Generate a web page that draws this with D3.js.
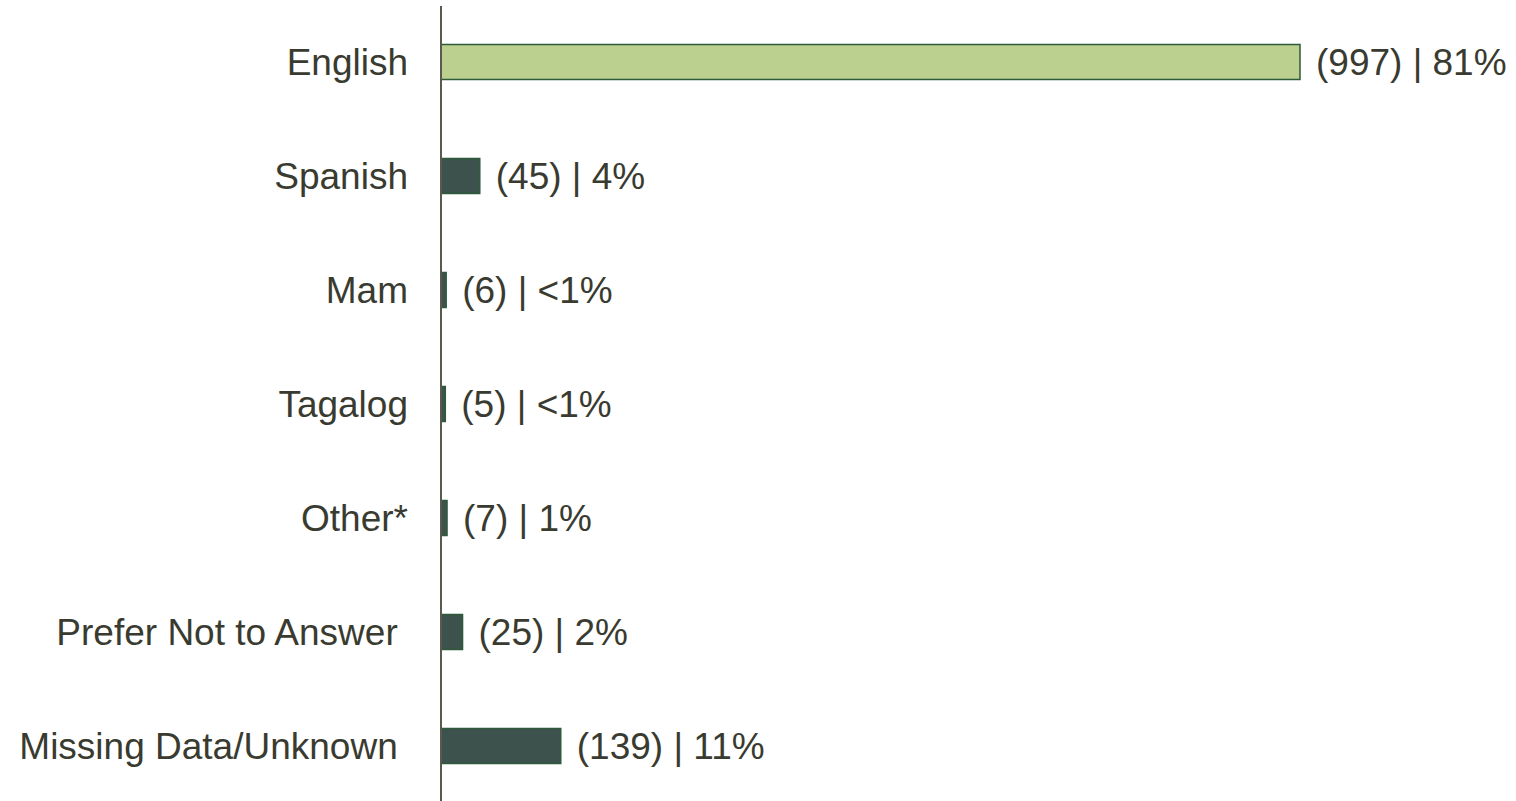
<!DOCTYPE html>
<html>
<head>
<meta charset="utf-8">
<script src="https://cdn.jsdelivr.net/npm/d3@7.9.0/dist/d3.min.js"></script>
<style>
  html, body { margin: 0; padding: 0; background: #fff; }
  text { font-family: "Liberation Sans", Arial, sans-serif; fill: #3a3b30; }
</style>
</head>
<body>
<div id="viz"></div>
<script>
// chart data
const categories = ["English", "Spanish", "Mam", "Tagalog", "Other*", "Prefer Not to Answer ", "Missing Data/Unknown "];
const counts = [997, 45, 6, 5, 7, 25, 139];
const percents = ["81%", "4%", "<1%", "<1%", "1%", "2%", "11%"];
const highlight = ["English"];

const width = 1516;
const height = 801;

const svg = d3.select("#viz")
  .append("svg")
  .attr("width", width)
  .attr("height", height);

const x = d3.scaleLinear()
  .domain([0, d3.max(counts)])
  .range([441, 1300]);

const y = d3.scaleBand()
  .domain(categories)
  .range([5, 803])
  .paddingInner(0.693)
  .paddingOuter(0.3465);

const rows = categories.map((c, i) => ({ cat: c, n: counts[i], pct: percents[i] }));

// bars
svg.selectAll("rect.bar")
  .data(rows)
  .join("rect")
  .attr("class", "bar")
  .attr("x", x(0))
  .attr("y", d => y(d.cat))
  .attr("width", d => x(d.n) - x(0))
  .attr("height", y.bandwidth())
  .attr("fill", d => highlight.includes(d.cat) ? "#bbd08e" : "#3d524d")
  .attr("stroke", "#2e5a3c")
  .attr("stroke-width", 1.5);

// category labels
svg.selectAll("text.cat")
  .data(rows)
  .join("text")
  .attr("class", "cat")
  .attr("x", 408)
  .attr("y", d => y(d.cat) + y.bandwidth() / 2)
  .attr("dy", "0.35em")
  .attr("text-anchor", "end")
  .style("white-space", "pre")
  .attr("font-size", "37px")
  .text(d => d.cat);

// value labels
svg.selectAll("text.val")
  .data(rows)
  .join("text")
  .attr("class", "val")
  .attr("x", d => x(d.n) + 16)
  .attr("y", d => y(d.cat) + y.bandwidth() / 2)
  .attr("dy", "0.35em")
  .attr("font-size", "37px")
  .text(d => `(${d.n}) | ${d.pct}`);

// vertical axis line
svg.append("line")
  .attr("x1", x(0))
  .attr("x2", x(0))
  .attr("y1", 6)
  .attr("y2", 801)
  .attr("stroke", "#5b584d")
  .attr("stroke-width", 2);
</script>
</body>
</html>
